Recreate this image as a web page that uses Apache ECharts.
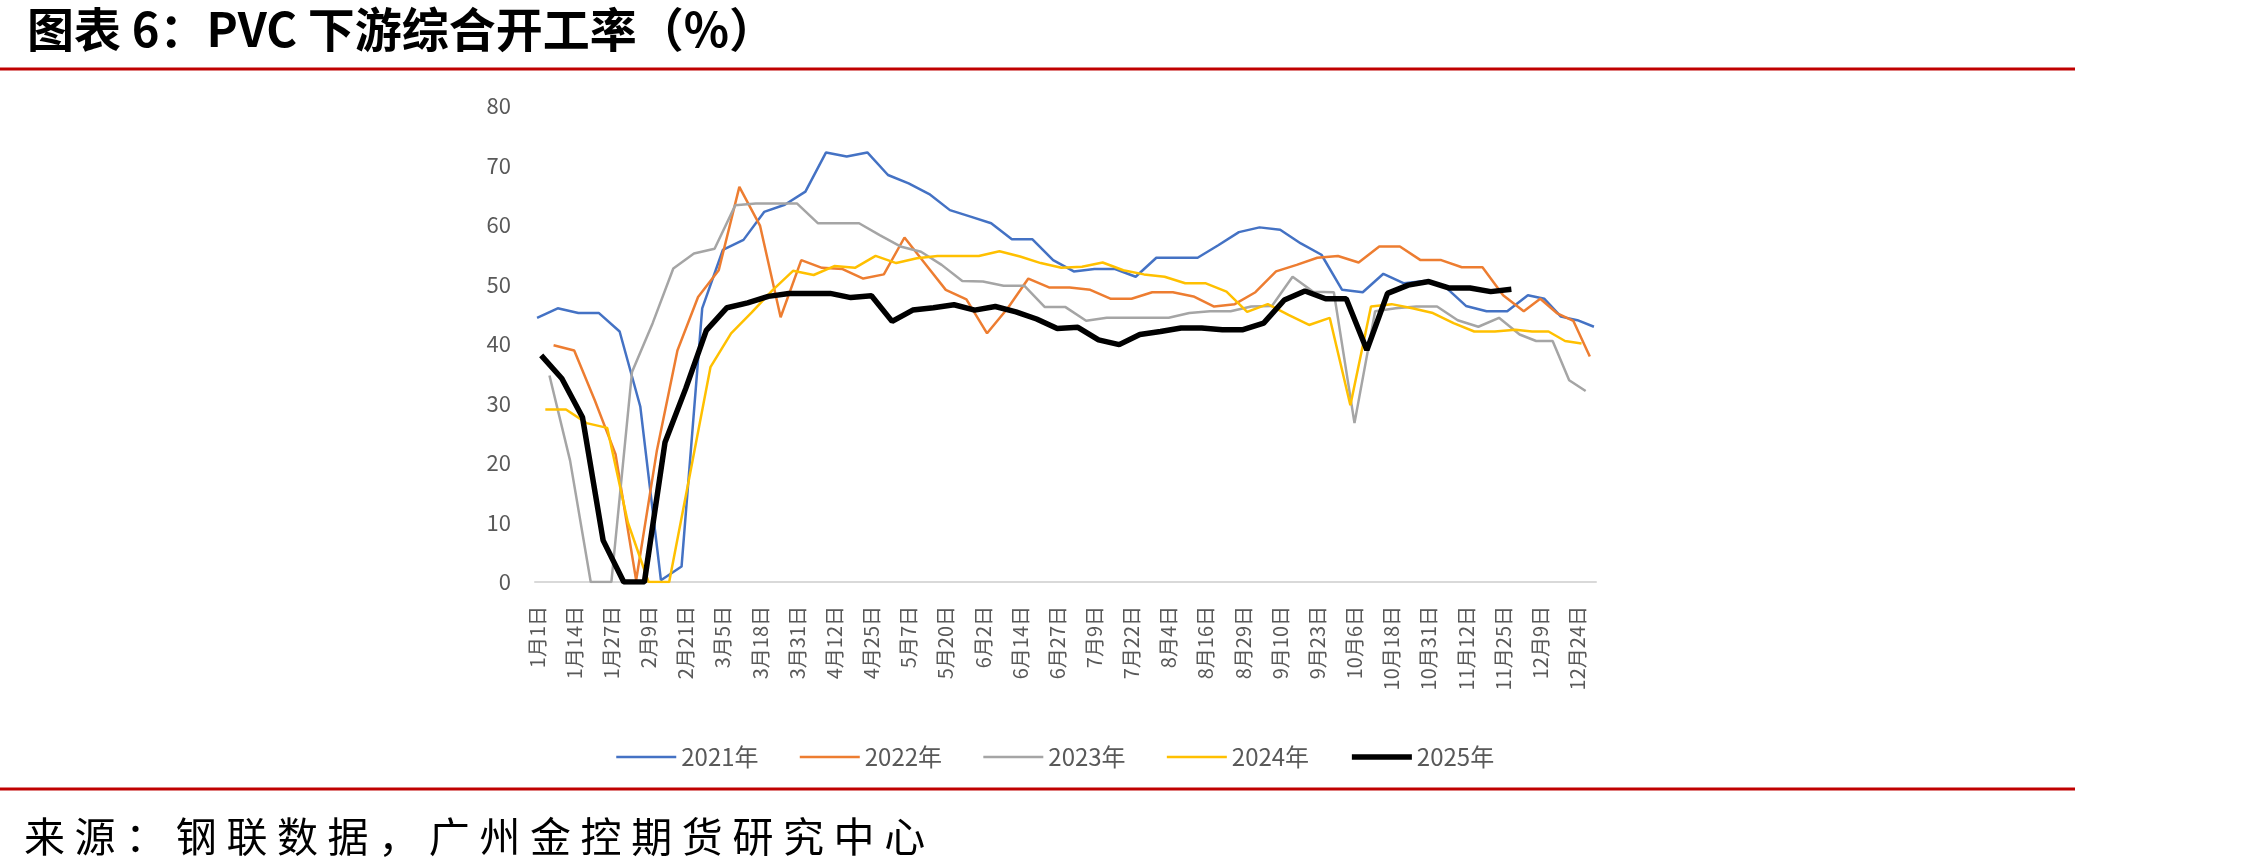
<!DOCTYPE html>
<html>
<head>
<meta charset="utf-8">
<script src="https://cdn.jsdelivr.net/npm/echarts@6/dist/echarts.min.js"></script>
<style>
  html, body { margin: 0; padding: 0; background: #fff; }
  #chart { width: 2255px; height: 867px; }
  #source {
    position: absolute; left: 24px; top: 804px;
    font-family: "Noto Sans CJK SC"; font-size: 41px; letter-spacing: 9.6px; color: #000;
  }
</style>
</head>
<body>
<div id="chart"></div>
<div id="source">来源：钢联数据，广州金控期货研究中心</div>
<script>
// 图表6：PVC下游综合开工率（%），周度数据，每年从第一个周五开始
const years = ['2021年', '2022年', '2023年', '2024年', '2025年'];
const firstFriday = ['2021-01-01', '2022-01-07', '2023-01-06', '2024-01-05', '2025-01-03'];
const colors = ['#4472C4', '#ED7D31', '#A5A5A5', '#FFC000', '#000000'];
const widths = [2.5, 2.5, 2.5, 2.5, 5.5];

const v2021 = [44.4, 46.0, 45.2, 45.2, 42.1, 29.5, 0.3, 2.6, 46.0, 55.8, 57.5, 62.2, 63.4, 65.6, 72.2, 71.5, 72.2, 68.4,
  67.0, 65.2, 62.5, 61.4, 60.3, 57.6, 57.6, 54.1, 52.2, 52.6, 52.6, 51.3, 54.5, 54.5, 54.5, 56.6, 58.8, 59.6, 59.2,
  56.9, 55.0, 49.1, 48.7, 51.8, 50.2, 50.6, 49.6, 46.4, 45.5, 45.5, 48.2, 47.6, 44.6, 44.0, 42.9];
const v2022 = [39.8, 38.9, 30.5, 21.5, 0.3, 22.0, 38.9, 47.9, 52.4, 66.4, 59.9, 44.5, 54.1, 52.8, 52.6, 51.0, 51.7, 57.9,
  53.5, 49.1, 47.5, 41.8, 46.0, 51.0, 49.5, 49.5, 49.1, 47.6, 47.6, 48.7, 48.7, 48.0, 46.3, 46.7, 48.7, 52.2, 53.3,
  54.5, 54.8, 53.7, 56.4, 56.4, 54.1, 54.1, 52.9, 52.9, 48.2, 45.5, 47.6, 45.2, 43.9, 37.9];
const v2023 = [34.7, 20.4, 0, 0, 35.3, 43.5, 52.7, 55.2, 56.0, 63.3, 63.6, 63.6, 63.6, 60.3, 60.3, 60.3, 58.3, 56.4,
  55.5, 53.3, 50.6, 50.5, 49.8, 49.8, 46.2, 46.2, 43.9, 44.4, 44.4, 44.4, 44.4, 45.2, 45.5, 45.5, 46.3, 46.4, 51.3,
  48.8, 48.7, 26.7, 45.5, 46.0, 46.3, 46.3, 44.0, 42.9, 44.4, 41.6, 40.5, 40.5, 33.9, 32.1];
const v2024 = [29.0, 29.0, 26.7, 25.9, 10.0, 0, 0, 18.0, 36.1, 41.8, 45.3, 49.0, 52.3, 51.6, 53.1, 52.8, 54.8, 53.6,
  54.4, 54.8, 54.8, 54.8, 55.6, 54.7, 53.6, 52.8, 53.0, 53.7, 52.4, 51.7, 51.3, 50.2, 50.2, 48.8, 45.4, 46.7, 44.9,
  43.2, 44.4, 29.7, 46.3, 46.7, 46.0, 45.2, 43.5, 42.1, 42.1, 42.4, 42.1, 42.1, 40.5, 40.1];
const v2025 = [38.1, 34.2, 27.7, 7.0, 0, 0, 23.5, 32.5, 42.3, 46.1, 46.9, 48.0, 48.5, 48.5, 48.5, 47.8, 48.1, 43.8,
  45.7, 46.1, 46.6, 45.7, 46.3, 45.4, 44.2, 42.6, 42.8, 40.7, 39.9, 41.6, 42.1, 42.7, 42.7, 42.4, 42.4, 43.5, 47.4,
  48.9, 47.6, 47.6, 39.0, 48.5, 49.9, 50.5, 49.4, 49.4, 48.8, 49.2];
const values = [v2021, v2022, v2023, v2024, v2025];

// 每年的日期（周五），横轴是各年月日的并集
function weekDates(start, n) {
  const [y, m, d] = start.split('-').map(Number);
  const out = [];
  for (let k = 0; k < n; k++) {
    const t = new Date(Date.UTC(y, m - 1, d + 7 * k));
    out.push({ key: (t.getUTCMonth() + 1) * 100 + t.getUTCDate(), name: (t.getUTCMonth() + 1) + '月' + t.getUTCDate() + '日' });
  }
  return out;
}
const dates = values.map((v, i) => weekDates(firstFriday[i], v.length));
const keyMap = {};
dates.forEach(list => list.forEach(o => { keyMap[o.key] = o.name; }));
const categories = Object.keys(keyMap).map(Number).sort((a, b) => a - b).map(k => keyMap[k]);

const chart = echarts.init(document.getElementById('chart'));

const option = {
  animation: false,
  backgroundColor: '#fff',
  title: {
    text: '图表 6：PVC 下游综合开工率（%）',
    left: 22, top: 1,
    textStyle: { fontFamily: 'Noto Sans CJK SC', fontSize: 47, fontWeight: 'bold', color: '#000' }
  },
  graphic: [
    { type: 'line', shape: { x1: 0, y1: 69, x2: 2075, y2: 69 }, style: { stroke: '#C00000', lineWidth: 3 } },
    { type: 'line', shape: { x1: 0, y1: 789, x2: 2075, y2: 789 }, style: { stroke: '#C00000', lineWidth: 3 } }
  ],
  legend: {
    // 图例只画线，不画圆点
    data: years.map((name, i) => ({ name: name, lineStyle: { color: colors[i], width: widths[i] } })),
    left: 610, top: 740,
    itemWidth: 60, itemHeight: 14, itemGap: 40,
    itemStyle: { opacity: 0 },
    textStyle: { fontFamily: 'Noto Sans CJK SC', fontSize: 24, color: '#595959' }
  },
  grid: { left: 535, right: 659, top: 106, bottom: 285 },
  xAxis: {
    type: 'category',
    data: categories,
    boundaryGap: true,
    axisLine: { lineStyle: { color: '#D9D9D9', width: 2 } },
    axisTick: { show: false },
    axisLabel: {
      rotate: 90, interval: 8, margin: 24,
      fontFamily: 'Noto Sans CJK SC', fontSize: 20, color: '#595959'
    }
  },
  yAxis: {
    type: 'value',
    min: 0, max: 80, interval: 10,
    axisLine: { show: false },
    axisTick: { show: false },
    splitLine: { show: false },
    axisLabel: { margin: 24, fontFamily: 'Noto Sans CJK SC', fontSize: 22, color: '#595959' }
  },
  series: years.map((name, i) => ({
    name: name,
    type: 'line',
    symbol: 'none',
    data: values[i].map((v, k) => [dates[i][k].name, v]),
    lineStyle: { color: colors[i], width: widths[i] },
    itemStyle: { color: colors[i] },
    z: i === 4 ? 5 : 2
  }))
};

chart.setOption(option);
</script>
</body>
</html>
